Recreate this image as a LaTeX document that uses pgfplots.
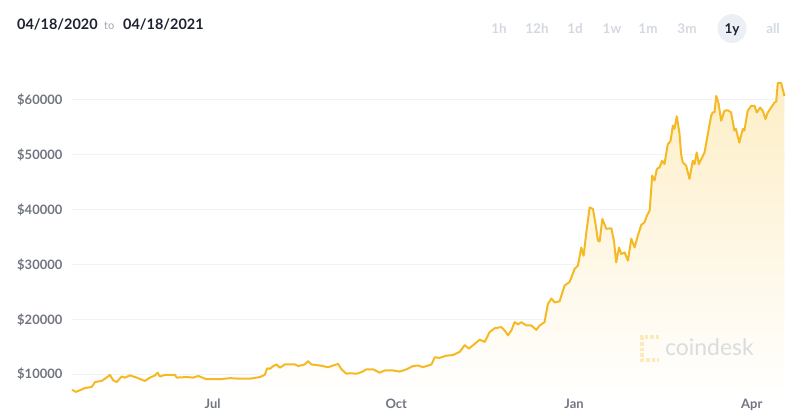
\documentclass[border=0pt]{standalone}
\usepackage{fontspec}
\setmainfont{Lato}
\usepackage{pgfplots}
\usepackage{pgfplotstable}
\pgfplotsset{compat=1.18}
\definecolor{btc}{RGB}{245,185,35}
\definecolor{btcfill}{RGB}{253,238,198}
\definecolor{gridc}{RGB}{242,243,246}
\definecolor{lab}{RGB}{113,117,128}
\definecolor{dark}{RGB}{30,33,48}
\definecolor{togray}{RGB}{160,164,172}
\definecolor{tf}{RGB}{212,216,224}
\definecolor{tfbg}{RGB}{236,240,246}
\definecolor{wm}{RGB}{218,220,226}
\definecolor{wmy}{RGB}{252,234,185}

\pgfplotstableread{
d v
0 7200
1.9 6800
4.1 7100
6.6 7500
10.1 7700
11.8 8600
15.2 8800
17.7 9400
19.4 9900
21.1 8900
22.9 8600
25.4 9600
27.1 9400
29.7 9800
33.1 9400
37.3 8800
39.9 9400
42.5 9800
43.8 10300
45.0 9600
47.6 9900
52.7 9900
53.6 9400
58.7 9500
62.0 9400
64.6 9700
68.9 9100
75.7 9100
80.8 9300
85.9 9200
91.0 9200
96.2 9500
98.7 9900
99.9 11100
101.3 11000
103.0 11500
104.7 11800
106.4 11200
109.0 11800
114.1 11800
115.8 11500
119.2 11800
120.9 12400
122.6 11800
126.9 11600
131.1 11300
136.2 11900
138.0 10900
140.5 10100
142.2 10200
145.6 10100
148.2 10400
150.7 10900
154.1 10900
157.5 10300
160.1 10700
164.3 10700
167.8 10500
171.2 10900
174.6 11500
177.1 11600
179.7 11300
184.0 11800
185.7 13100
188.2 13000
191.7 13400
195.0 13500
198.5 14100
201.0 15300
203.2 14700
205.3 15300
208.7 16300
211.3 15900
213.8 17700
216.4 18400
219.8 18600
221.5 18000
223.2 17100
224.9 18000
226.6 19500
228.3 19100
230.0 19500
232.6 18900
235.1 18900
237.7 18100
239.4 18900
241.9 19500
243.6 22800
245.4 23800
247.1 23100
249.6 23300
252.2 26200
254.7 26800
257.3 29200
259.0 29800
260.7 33100
261.9 31600
263.3 35900
265.0 40400
266.7 40100
268.0 37400
269.2 34400
270.1 34200
271.5 38300
273.5 36500
276.1 36600
277.4 34400
278.6 30400
280.0 33100
281.2 31900
282.9 32200
284.6 30700
286.3 34700
288.0 33100
289.7 35300
291.4 37200
293.1 37700
294.3 38900
295.7 39800
297.0 46200
298.2 45300
299.4 47400
300.8 47700
302.1 48900
303.3 48300
305.0 51900
306.4 52500
307.6 55300
308.4 54700
309.6 57000
311.0 53800
311.8 50100
312.7 48600
314.4 48000
316.1 45600
317.8 48900
318.7 48300
319.8 50400
320.9 48300
322.1 49200
323.8 50400
325.5 53800
327.2 57100
328.0 57700
328.9 57700
329.8 60700
330.9 59500
332.3 56200
334.0 58000
335.7 58100
337.4 57700
339.1 54400
339.9 54700
341.6 52200
343.4 54700
344.2 54400
345.9 58000
347.7 58900
349.4 58900
350.5 57700
352.3 58600
353.6 58000
355.0 56500
356.2 57700
357.9 58600
359.6 59500
360.5 59700
361.3 63100
363.0 63100
364.7 60700
}\btcdata

\begin{document}
\begin{tikzpicture}[x=1bp,y=1bp]
\useasboundingbox (0,0) rectangle (800,419);
\begin{axis}[
  at={(72bp,22.74bp)}, anchor=south west,
  scale only axis, width=713bp, height=323.9bp,
  xmin=0, xmax=365, ymin=6000, ymax=65000,
  scaled y ticks=false,
  axis line style={draw=none},
  tick style={draw=none},
  ytick={10000,20000,30000,40000,50000,60000},
  yticklabels={\$10000,\$20000,\$30000,\$40000,\$50000,\$60000},
  xtick={72,166,257,348},
  xticklabels={Jul,Oct,Jan,Apr},
  ymajorgrids,
  grid style={color=gridc, line width=0.9bp},
  yticklabel style={anchor=east, inner sep=0pt, xshift=-9.5bp,
    font=\fontsize{13}{15}\selectfont\bfseries, text=lab},
  xticklabel style={anchor=north, inner sep=0pt, yshift=-2.5bp,
    font=\fontsize{13}{15}\selectfont\bfseries, text=lab},
  clip=false,
]
\addplot[draw=none, top color=btcfill, bottom color=white] table[x=d,y=v] {\btcdata} \closedcycle;
\addplot[color=btc, line width=2bp, line join=round, mark=none] table[x=d,y=v] {\btcdata};
\end{axis}

% header
\node[anchor=base west, inner sep=0pt, text=dark, font=\fontsize{14.5}{16}\selectfont\bfseries] at (17,389) {04/18/2020};
\node[anchor=base west, inner sep=0pt, text=togray, font=\fontsize{11}{13}\selectfont] at (104,389) {to};
\node[anchor=base west, inner sep=0pt, text=dark, font=\fontsize{14.5}{16}\selectfont\bfseries] at (123,389) {04/18/2021};

\fill[tfbg] (732,390.5) circle (14.5);
\foreach \lab/\xx in {1h/499,12h/537,1d/575,1w/612,1m/648,3m/687,all/773}{
  \node[anchor=base, inner sep=0pt, text=tf, font=\fontsize{13.5}{15}\selectfont\bfseries] at (\xx,386) {\lab};
}
\node[anchor=base, inner sep=0pt, text=dark, font=\fontsize{13.5}{15}\selectfont\bfseries] at (732,386) {1y};

% watermark
\draw[wmy, line width=3.2bp, dash pattern=on 3.5bp off 2bp] (659,82) -- (642,82) -- (642,59) -- (659,59);
\node[anchor=base west, inner sep=0pt, text=wm, font=\fontsize{23}{26}\selectfont] at (665,64) {coindesk};
\end{tikzpicture}
\end{document}
